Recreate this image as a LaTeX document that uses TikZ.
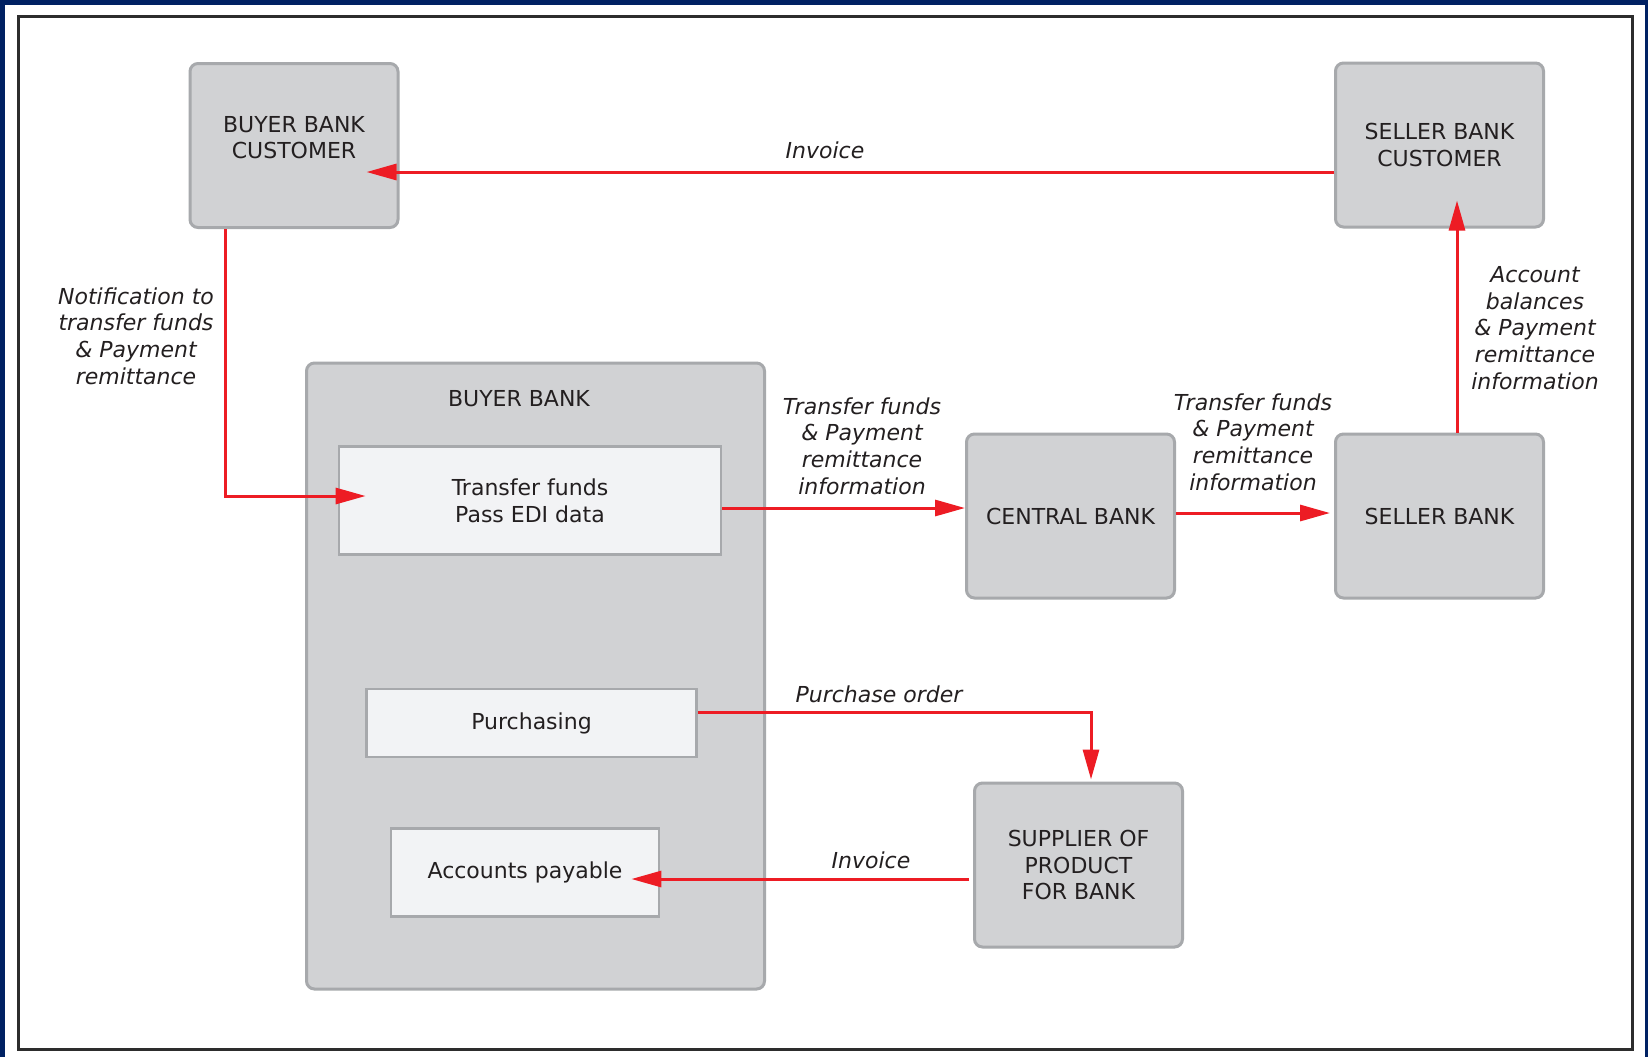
\documentclass[tikz,border=0pt]{standalone}
\usepackage{fontspec}
\setmainfont{DejaVu Sans}
\usetikzlibrary{arrows.meta}
\definecolor{navyedge}{RGB}{0,33,99}
\definecolor{framegray}{RGB}{45,45,45}
\definecolor{boxgray}{RGB}{209,210,212}
\definecolor{edgegray}{RGB}{167,169,172}
\definecolor{paper}{RGB}{242,243,245}
\definecolor{flowred}{RGB}{237,28,36}
\definecolor{ink}{RGB}{35,31,32}
\tikzset{
  party/.style={rectangle, rounded corners=4pt, fill=boxgray, draw=edgegray, line width=1.5pt,
    minimum width=104pt, minimum height=82pt, align=center, text=ink,
    font=\fontsize{11pt}{13.35pt}\selectfont},
  dept/.style={rectangle, fill=paper, draw=edgegray, line width=1.4pt, align=center, text=ink,
    font=\fontsize{11pt}{13.35pt}\selectfont},
  caption/.style={align=center, text=ink, font=\fontsize{11pt}{13.35pt}\selectfont},
  flow/.style={draw=flowred, line width=1.5pt, -{Triangle[length=15pt,width=8pt]}},
  note/.style={align=center, text=ink, inner sep=0pt, font=\fontsize{11pt}{13.35pt}\selectfont\itshape}
}
\begin{document}
\begin{tikzpicture}[x=0.5pt,y=-0.5pt]
  \useasboundingbox (0,0) rectangle (1648,1057);
  \fill[navyedge] (0,0) rectangle (1648,1057);
  \fill[white] (5,5) rectangle (1645,1057);
  \draw[framegray, line width=1.5pt] (18,16) rectangle (1632,1049);

  % parties
  \node[party] (bbc) at (294,145.5) {};
  \node[caption] (bbctext) at ([yshift=4pt]bbc.center) {BUYER BANK\\ CUSTOMER};
  \node[party] (sbc) at (1439.5,145) {SELLER BANK\\ CUSTOMER};
  \node[party] (central) at (1070.5,516) {CENTRAL BANK};
  \node[party] (seller) at (1439.5,516) {SELLER BANK};
  \node[party] (supplier) at (1078.5,865) {SUPPLIER OF\\ PRODUCT\\ FOR BANK};

  % buyer bank and its departments
  \node[party, minimum width=229pt, minimum height=313pt] (bbank) at (535.5,676) {};
  \node[caption] (bbtitle) at (519,399) {BUYER BANK};
  \node[dept, minimum width=191pt, minimum height=54pt] (xfer) at (530,500.5) {Transfer funds\\ Pass EDI data};
  \node[dept, minimum width=165pt, minimum height=34pt] (purch) at (531.5,723) {Purchasing};
  \node[dept, minimum width=134pt, minimum height=44pt] (ap) at (525,872.5) {Accounts payable};

  % flows
  \coordinate (invtop) at ([yshift=-13.5pt]sbc.west);
  \draw[flow, shorten >=-16.5pt] (invtop) -- (invtop -| bbc.east);
  \draw[flow] ([xshift=-34.5pt]bbc.south) |- ([xshift=14pt,yshift=2.25pt]xfer.west);
  \draw[flow] ([yshift=-3.75pt]xfer.east) -- ([yshift=4pt]central.west);
  \draw[flow] ([yshift=1.5pt]central.east) -- ([xshift=-2pt,yshift=1.5pt]seller.west);
  \draw[flow, shorten >=-14pt] ([xshift=8.75pt]seller.north) -- ([xshift=8.75pt]sbc.south);
  \draw[flow] ([yshift=5.5pt]purch.east) -| ([xshift=6.25pt,yshift=1pt]supplier.north);
  \coordinate (invlow) at ([yshift=-7pt]supplier.west);
  \draw[flow, shorten >=-14.5pt] ([xshift=-2pt]invlow) -- (invlow -| ap.east);

  % flow labels
  \node[note] (lbinvtop) at (825,150) {Invoice};
  \node[note] (lbnotify) at (136,336) {Notification to\\ transfer funds\\ \& Payment\\ remittance};
  \node[note] (lbxfer) at (862,446) {Transfer funds\\ \& Payment\\ remittance\\ information};
  \node[note] (lbclear) at (1253,442) {Transfer funds\\ \& Payment\\ remittance\\ information};
  \node[note] (lbbalance) at (1535,328) {Account\\ balances\\ \& Payment\\ remittance\\ information};
  \node[note] (lborder) at (879,694) {Purchase order};
  \node[note] (lbinvlow) at (871,860) {Invoice};
\end{tikzpicture}
\end{document}
